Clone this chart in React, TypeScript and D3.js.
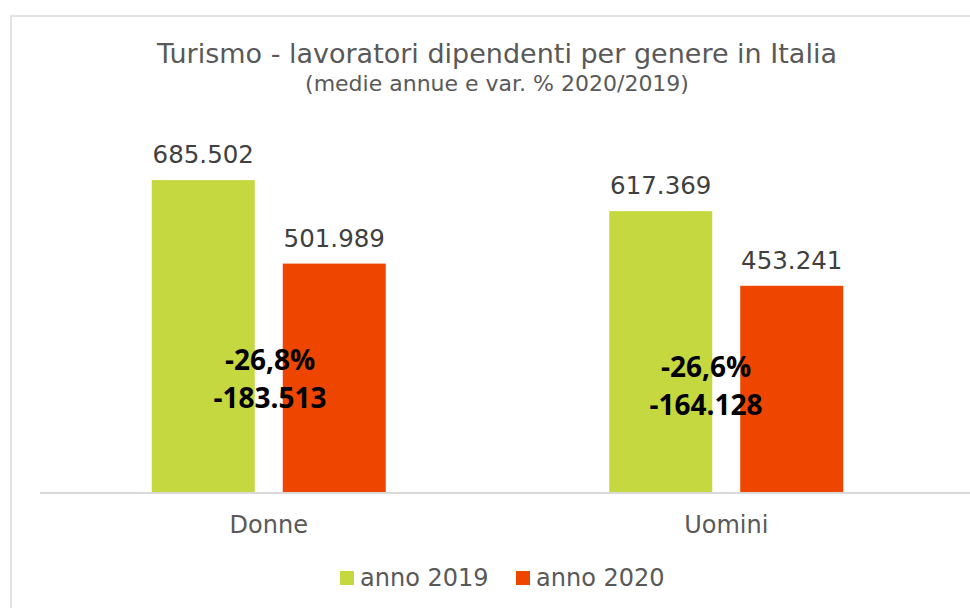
import React from "react";
import * as d3 from "d3";

const categories = ["Donne", "Uomini"];
const seriesNames = ["anno 2019", "anno 2020"];
const values2019 = [685502, 617369];
const values2020 = [501989, 453241];
const pctChange = ["-26,8%", "-26,6%"];
const absChange = ["-183.513", "-164.128"];
const colors = ["#c5d840", "#ee4500"];

const W = 970;
const H = 608;
const fmt = (v: number) => d3.format(",")(v).replace(/,/g, ".");

export default function App() {
  const x0 = d3.scaleBand<string>().domain(categories).range([40, 955]).paddingInner(0).paddingOuter(0);
  const x1 = d3.scaleBand<string>().domain(seriesNames).range([0, x0.bandwidth()]).paddingInner(0.2137).paddingOuter(0.853);
  const y = d3.scaleLinear().domain([0, 800000]).range([492, 128]);
  const series = [values2019, values2020];
  const font = "'DejaVu Sans', Verdana, sans-serif";

  return (
    <svg width={W} height={H} style={{ position: "absolute", left: 0, top: 0, background: "#fff" }}>
      <rect x={11} y={16} width={W} height={H} fill="#fff" stroke="#d9d9d9" strokeWidth={1.5} />
      <text x={497} y={63} textAnchor="middle" fontFamily={font} fontSize={27} fill="#595959">
        Turismo - lavoratori dipendenti per genere in Italia
      </text>
      <text x={497} y={91} textAnchor="middle" fontFamily={font} fontSize={22} fill="#595959">
        (medie annue e var. % 2020/2019)
      </text>
      {categories.map((c, i) => (
        <g key={c} transform={`translate(${x0(c)},0)`}>
          {seriesNames.map((s, j) => {
            const v = series[j][i];
            const bx = x1(s)!;
            return (
              <g key={s}>
                <rect x={bx} y={y(v)} width={x1.bandwidth()} height={y(0) - y(v)} fill={colors[j]} />
                <text x={bx + x1.bandwidth() / 2} y={y(v) - 17} textAnchor="middle" fontFamily={font} fontSize={24.5} fill="#404040">
                  {fmt(v)}
                </text>
              </g>
            );
          })}
        </g>
      ))}
      <line x1={40} x2={W} y1={y(0) + 1} y2={y(0) + 1} stroke="#d9d9d9" strokeWidth={2} />
      {categories.map((c) => (
        <text key={c} x={x0(c)! + x0.bandwidth() / 2} y={533} textAnchor="middle" fontFamily={font} fontSize={24} fill="#595959">
          {c}
        </text>
      ))}
      {categories.map((c, i) => {
        const cx = i === 0 ? 270 : 706;
        const by = i === 0 ? 370 : 377;
        return (
          <g key={c}>
            <text x={cx} y={by} textAnchor="middle" fontFamily="'Open Sans', sans-serif" fontWeight="bold" fontSize={28} fill="#000">
              {pctChange[i]}
            </text>
            <text x={cx} y={by + 38} textAnchor="middle" fontFamily="'Open Sans', sans-serif" fontWeight="bold" fontSize={28} fill="#000">
              {absChange[i]}
            </text>
          </g>
        );
      })}
      {seriesNames.map((s, j) => {
        const lx = j === 0 ? 340 : 516;
        return (
          <g key={s}>
            <rect x={lx} y={571} width={14} height={14} fill={colors[j]} />
            <text x={lx + 20} y={586} fontFamily={font} fontSize={24} fill="#595959">
              {s}
            </text>
          </g>
        );
      })}
    </svg>
  );
}
